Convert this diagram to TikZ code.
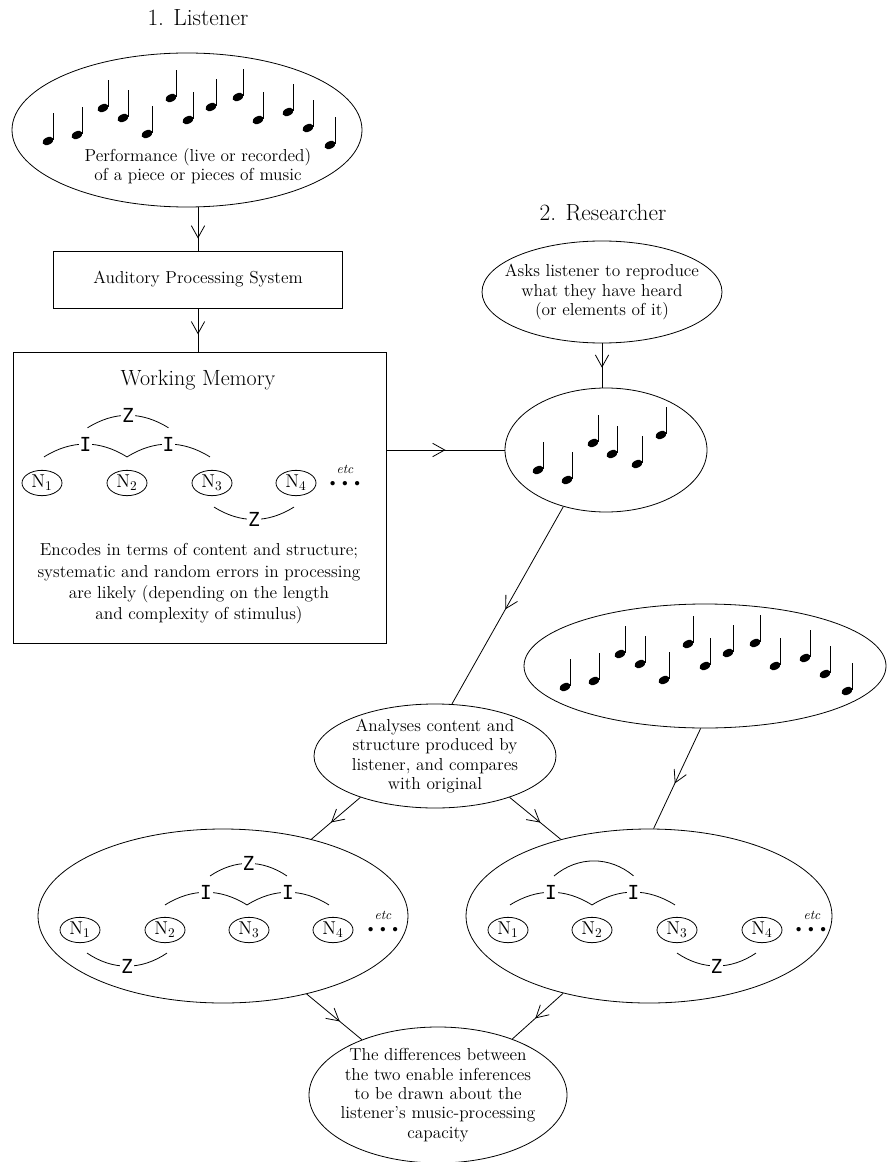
\documentclass[tikz,border=0pt]{standalone}
\usepackage{fontspec}
\usepackage{tikz}
\usetikzlibrary{shapes.geometric,arrows.meta,decorations.markings,calc}
\newfontfamily\markfont{DejaVu Sans Mono}
\newcommand{\bodyfont}{\fontsize{13}{14.5}\selectfont}
\newcommand{\qnote}[2]{%
  \fill[shift={(#1,#2)},rotate=-25] (0,0) ellipse (5.8 and 3.7);
  \draw[line width=0.7pt] (#1+5.3,#2-1) -- (#1+5.3,#2-28);}
\newcommand{\melody}{48/141,77/135,103/108,123/118,147/134,171/98,188/120,211/107,238/97,258/120,288/112,308/128,330/145}

\tikzset{
  bubble/.style={draw, ellipse, inner sep=0pt},
  panel/.style={draw, rectangle, inner sep=0pt},
  blurb/.style={align=center, font=\bodyfont, inner sep=0pt},
  heading/.style={font=\fontsize{17.5}{20}\selectfont},
  unit/.style={draw, ellipse, minimum width=30pt, minimum height=19pt, inner sep=0pt, font=\fontsize{14}{16}\selectfont},
  relmark/.style={fill=white, inner sep=0.6pt, font=\markfont\fontsize{14.5}{14.5}\selectfont},
  etcnote/.style={font=\fontsize{10}{10}\selectfont\itshape},
  dots3/.style={font=\fontsize{12}{12}\selectfont, inner sep=0pt},
  % yscale=-1 flips the bends: "up" below means bend right
  arcup/.style={bend right=#1}, arcup/.default=32,
  arcdown/.style={bend left=#1}, arcdown/.default=32,
  flow/.style={postaction={decorate}, decoration={markings, mark=at position #1 with {\arrow{Straight Barb[length=9pt,width=10pt]}}}},
  flow/.default=0.6,
}

\begin{document}
\begin{tikzpicture}[x=0.75pt,y=0.75pt,yscale=-1,xscale=1,line width=0.6pt]
\useasboundingbox (0,0) rectangle (887,1162);

% Text Node
\node[heading] (listener) at (198,18) {1. Listener};
% Text Node
\node[heading] (researcher) at (603,213) {2. Researcher};

%Shape: Ellipse - performance
\node[bubble, minimum width=262.5pt, minimum height=115.5pt] (perf) at (187,130) {};
\foreach \nx/\ny in \melody {\qnote{\nx}{\ny}}
\node[blurb] (perftext) at (198,166) {Performance (live or recorded)\\of a piece or pieces of music};

%Shape: Rectangle
\node[panel, minimum width=216.75pt, minimum height=42.75pt, font=\bodyfont] (aps) at (198,279.5) {Auditory Processing System};
%Shape: Rectangle - working memory
\node[panel, minimum width=279.75pt, minimum height=218.25pt] (wm) at (199.5,497.5) {};
\node[blurb, font=\fontsize{16.5}{18}\selectfont] (wmtitle) at (198,380) {Working Memory};
\node[unit] (wn1) at (42,483) {N$_1$};
\node[unit] (wn2) at (127,483) {N$_2$};
\node[unit] (wn3) at (212,483) {N$_3$};
\node[unit] (wn4) at (296,483) {N$_4$};
\node[etcnote] (wetc) at (345,469) {etc};
\node[dots3] (wdots) at (345,484) {\textbullet\textbullet\textbullet};
\draw ($(wn1.north)+(2,-13)$) to[arcup] node[relmark] (wi1) {I} ($(wn2.north)+(0,-13)$);
\draw ($(wn2.north)+(0,-13)$) to[arcup] node[relmark] (wi2) {I} ($(wn3.north)+(-2,-13)$);
\draw ($(wi1.north)+(2,-8)$) to[arcup] node[relmark] (wz1) {Z} ($(wi2.north)+(0,-8)$);
\draw ($(wn3.south)+(2,11)$) to[arcdown] node[relmark] (wz2) {Z} ($(wn4.south)+(-2,11)$);
\node[blurb, font=\fontsize{13}{16}\selectfont] (encode) at (199,584) {Encodes in terms of content and structure;\\systematic and random errors in processing\\are likely (depending on the length\\and complexity of stimulus)};

%Shape: Ellipse - request
\node[bubble, minimum width=180pt, minimum height=76.5pt, label={[blurb]center:{Asks listener to reproduce\\what they have heard\\(or elements of it)}}] (ask) at (602,292) {};
%Shape: Ellipse - reproduction
\node[bubble, minimum width=151.5pt, minimum height=93pt] (repro) at (606,450) {};
\foreach \nx/\ny in {538/470,567/480,593/443,612/454,637/464,661/435} {\qnote{\nx}{\ny}}
%Shape: Ellipse - original
\node[bubble, minimum width=271.5pt, minimum height=93pt] (orig) at (705,666) {};
\begin{scope}[shift={(517,546)}]
\foreach \nx/\ny in \melody {\qnote{\nx}{\ny}}
\end{scope}
%Shape: Ellipse - analysis
\node[bubble, minimum width=181.5pt, minimum height=78pt, label={[blurb]center:{Analyses content and\\structure produced by\\listener, and compares\\with original}}] (analyses) at (435,756) {};

%Shape: Ellipse - left structure
\node[bubble, minimum width=277.5pt, minimum height=130.5pt] (lbig) at (223,916) {};
\node[unit] (ln1) at (80,930) {N$_1$};
\node[unit] (ln2) at (165,930) {N$_2$};
\node[unit] (ln3) at (249,930) {N$_3$};
\node[unit] (ln4) at (333,930) {N$_4$};
\node[etcnote] (letc) at (383,915) {etc};
\node[dots3] (ldots) at (383,930) {\textbullet\textbullet\textbullet};
\draw ($(ln2.north)+(0,-12)$) to[arcup] node[relmark] (li1) {I} ($(ln3.north)+(-2,-12)$);
\draw ($(ln3.north)+(-2,-12)$) to[arcup] node[relmark] (li2) {I} ($(ln4.north)+(-4,-12)$);
\draw ($(li1.north)+(4,-8)$) to[arcup=34] node[relmark] (lz1) {Z} ($(li2.north)+(-1,-8)$);
\draw ($(ln1.south)+(7,10)$) to[arcdown=34] node[relmark] (lz2) {Z} ($(ln2.south)+(2,10)$);

%Shape: Ellipse - right structure
\node[bubble, minimum width=274.5pt, minimum height=130.5pt] (rbig) at (649,916) {};
\node[unit] (rn1) at (508,930) {N$_1$};
\node[unit] (rn2) at (592,930) {N$_2$};
\node[unit] (rn3) at (677,930) {N$_3$};
\node[unit] (rn4) at (762,930) {N$_4$};
\node[etcnote] (retc) at (812,915) {etc};
\node[dots3] (rdots) at (811,930) {\textbullet\textbullet\textbullet};
\draw ($(rn1.north)+(2,-12)$) to[arcup] node[relmark] (ri1) {I} ($(rn2.north)+(0,-12)$);
\draw ($(rn2.north)+(0,-12)$) to[arcup] node[relmark] (ri2) {I} ($(rn3.north)+(-2,-12)$);
\draw ($(ri1.north)+(3,-8)$) to[arcup=40] ($(ri2.north)+(0,-8)$);
\draw ($(rn3.south)+(0,10)$) to[arcdown=34] node[relmark] (rz1) {Z} ($(rn4.south)+(-6,10)$);

%Shape: Ellipse - conclusion
\node[bubble, minimum width=193.5pt, minimum height=102pt, label={[blurb]center:{The differences between\\the two enable inferences\\to be drawn about the\\listener's music-processing\\capacity}}] (final) at (438,1095) {};

%Straight Lines
\draw[flow=0.72] (perf.south -| aps.north) -- (aps.north);
\draw[flow] (aps.south) -- (aps.south |- wm.north);
\draw[flow=0.5] (wm.east |- repro.west) -- (repro.west);
\draw[flow=0.55] (ask.south) -- (ask.south |- repro.north);
\draw[flow=0.52] (repro.233) -- (analyses.72);
\draw[flow=0.55] (orig.266) -- (rbig.87);
\draw[flow] (analyses.209) -- (lbig.41);
\draw[flow] (analyses.331) -- (rbig.139);
\draw[flow] (lbig.317) -- (final.144);
\draw[flow=0.55] (rbig.222) -- (final.37);

\end{tikzpicture}
\end{document}
